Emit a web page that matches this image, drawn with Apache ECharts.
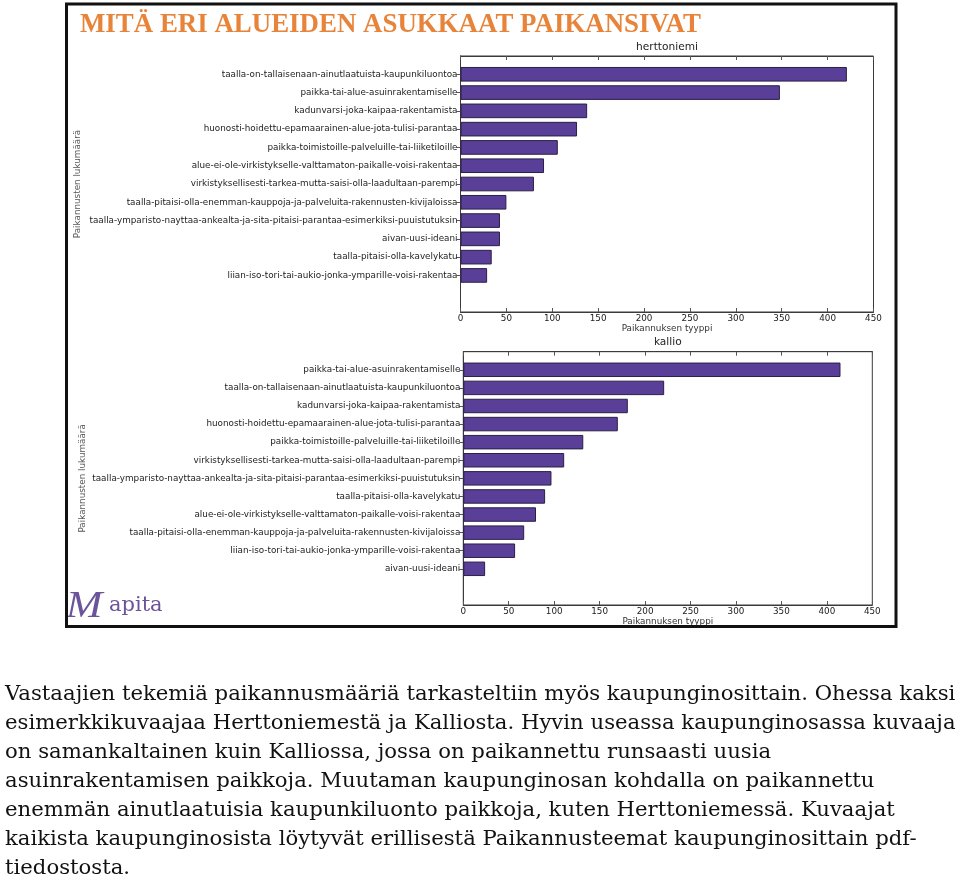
<!DOCTYPE html>
<html>
<head>
<meta charset="utf-8">
<script src="https://cdn.jsdelivr.net/npm/echarts@6/dist/echarts.min.js"></script>
<style>
html,body{margin:0;padding:0;background:#fff;}
#chart{width:960px;height:885px;}
</style>
</head>
<body>
<div id="chart"></div>
<script>
// ---- data ----
const hertCategories = [
  'taalla-on-tallaisenaan-ainutlaatuista-kaupunkiluontoa',
  'paikka-tai-alue-asuinrakentamiselle',
  'kadunvarsi-joka-kaipaa-rakentamista',
  'huonosti-hoidettu-epamaarainen-alue-jota-tulisi-parantaa',
  'paikka-toimistoille-palveluille-tai-liiketiloille',
  'alue-ei-ole-virkistykselle-valttamaton-paikalle-voisi-rakentaa',
  'virkistyksellisesti-tarkea-mutta-saisi-olla-laadultaan-parempi',
  'taalla-pitaisi-olla-enemman-kauppoja-ja-palveluita-rakennusten-kivijaloissa',
  'taalla-ymparisto-nayttaa-ankealta-ja-sita-pitaisi-parantaa-esimerkiksi-puuistutuksin',
  'aivan-uusi-ideani',
  'taalla-pitaisi-olla-kavelykatu',
  'liian-iso-tori-tai-aukio-jonka-ymparille-voisi-rakentaa'
];
const hertValues = [421, 348, 138, 127, 106, 91, 80, 50, 43, 43, 34, 29];

const kallioCategories = [
  'paikka-tai-alue-asuinrakentamiselle',
  'taalla-on-tallaisenaan-ainutlaatuista-kaupunkiluontoa',
  'kadunvarsi-joka-kaipaa-rakentamista',
  'huonosti-hoidettu-epamaarainen-alue-jota-tulisi-parantaa',
  'paikka-toimistoille-palveluille-tai-liiketiloille',
  'virkistyksellisesti-tarkea-mutta-saisi-olla-laadultaan-parempi',
  'taalla-ymparisto-nayttaa-ankealta-ja-sita-pitaisi-parantaa-esimerkiksi-puuistutuksin',
  'taalla-pitaisi-olla-kavelykatu',
  'alue-ei-ole-virkistykselle-valttamaton-paikalle-voisi-rakentaa',
  'taalla-pitaisi-olla-enemman-kauppoja-ja-palveluita-rakennusten-kivijaloissa',
  'liian-iso-tori-tai-aukio-jonka-ymparille-voisi-rakentaa',
  'aivan-uusi-ideani'
];
const kallioValues = [415, 221, 181, 170, 132, 111, 97, 90, 80, 67, 57, 24];

const xTicks = {min: 0, max: 450, interval: 50};
const chartTitles = ['herttoniemi', 'kallio'];
const xAxisName = 'Paikannuksen tyyppi';
const yAxisName = 'Paikannusten lukumäärä';
const mainTitle = 'MITÄ ERI ALUEIDEN ASUKKAAT PAIKANSIVAT';
const paragraphLines = [
  'Vastaajien tekemiä paikannusmääriä tarkasteltiin myös kaupunginosittain. Ohessa kaksi',
  'esimerkkikuvaajaa Herttoniemestä ja Kalliosta. Hyvin useassa kaupunginosassa kuvaaja',
  'on samankaltainen kuin Kalliossa, jossa on paikannettu runsaasti uusia',
  'asuinrakentamisen paikkoja. Muutaman kaupunginosan kohdalla on paikannettu',
  'enemmän ainutlaatuisia kaupunkiluonto paikkoja, kuten Herttoniemessä. Kuvaajat',
  'kaikista kaupunginosista löytyvät erillisestä Paikannusteemat kaupunginosittain pdf-',
  'tiedostosta.'
];

// ---- helpers ----
// pad axis with blank slots (one above, two below) like the original plot limits
function padCats(c){ return [' '].concat(c, ['  ', '   ']); }
function padVals(v){ return ['-'].concat(v, ['-', '-']); }

const FONT = 'DejaVu Sans';
const LBL = 8.8;
const grids = [
  {left: 460.5, top: 56, width: 413, height: 256},
  {left: 463.3, top: 351.7, width: 409, height: 253.3}
];
const nameGaps = [378, 376];

const option = {
  animation: false,
  backgroundColor: '#fff',
  grid: grids.map(g => Object.assign({show: true, borderColor: '#3a3a3a', borderWidth: 1, backgroundColor: 'transparent', containLabel: false}, g)),
  xAxis: [],
  yAxis: [],
  series: [],
  graphic: {elements: []}
};

[[hertCategories, hertValues], [kallioCategories, kallioValues]].forEach((pair, gi) => {
  const cats = padCats(pair[0]);
  option.xAxis.push({
    type: 'value', gridIndex: gi, position: 'bottom',
    min: xTicks.min, max: xTicks.max, interval: xTicks.interval,
    name: xAxisName, nameLocation: 'middle', nameGap: 11,
    nameTextStyle: {fontFamily: FONT, fontSize: LBL, color: '#333'},
    axisLine: {show: true, lineStyle: {color: '#3a3a3a', width: 1}},
    axisTick: {show: true, inside: true, length: 4, lineStyle: {color: '#555'}},
    axisLabel: {fontFamily: FONT, fontSize: LBL, color: '#222', margin: 2},
    splitLine: {show: false}
  });
  option.xAxis.push({
    type: 'value', gridIndex: gi, position: 'top',
    min: xTicks.min, max: xTicks.max, interval: xTicks.interval,
    axisLine: {show: true, lineStyle: {color: '#3a3a3a', width: 1}},
    axisTick: {show: true, inside: true, length: 4, lineStyle: {color: '#555'}},
    axisLabel: {show: false},
    splitLine: {show: false}
  });
  const tickInterval = (i, v) => v.trim() !== '';
  option.yAxis.push({
    type: 'category', gridIndex: gi, position: 'left', inverse: true,
    boundaryGap: false, data: cats,
    name: yAxisName, nameLocation: 'middle', nameGap: nameGaps[gi],
    nameTextStyle: {fontFamily: FONT, fontSize: LBL, color: '#555'},
    axisLine: {show: true, lineStyle: {color: '#3a3a3a', width: 1}},
    axisTick: {show: true, inside: true, length: 4, interval: tickInterval, lineStyle: {color: '#555'}},
    axisLabel: {fontFamily: FONT, fontSize: LBL, color: '#222', margin: 3, interval: 0},
    splitLine: {show: false}
  });
  option.yAxis.push({
    type: 'category', gridIndex: gi, position: 'right', inverse: true,
    boundaryGap: false, data: cats,
    axisLine: {show: true, lineStyle: {color: '#3a3a3a', width: 1}},
    axisTick: {show: true, inside: true, length: 4, interval: tickInterval, lineStyle: {color: '#555'}},
    axisLabel: {show: false},
    splitLine: {show: false}
  });
  option.series.push({
    type: 'bar', xAxisIndex: gi * 2, yAxisIndex: gi * 2,
    data: padVals(pair[1]),
    barWidth: '80%',
    itemStyle: {color: '#5a3f98', borderColor: '#2a1f45', borderWidth: 1},
    emphasis: {disabled: true}
  });
  option.graphic.elements.push({
    type: 'text', x: grids[gi].left + grids[gi].width / 2, y: grids[gi].top - 9,
    style: {text: chartTitles[gi], fontFamily: FONT, fontSize: 10.6, fill: '#222',
            align: 'center', verticalAlign: 'middle', textAlign: 'center', textVerticalAlign: 'middle'}
  });
});

// outer frame
option.graphic.elements.push({
  type: 'rect', shape: {x: 66.5, y: 4, width: 829.5, height: 622.5},
  style: {fill: 'none', stroke: '#111', lineWidth: 3}, z: 10
});
// main title
option.graphic.elements.push({
  type: 'text', x: 80, y: 25, scaleX: 0.96,
  style: {text: mainTitle, fontFamily: 'Liberation Serif', fontWeight: 'bold', fontSize: 28, fill: '#e8843a',
          align: 'left', verticalAlign: 'middle', textAlign: 'left', textVerticalAlign: 'middle'}
});
// logo
option.graphic.elements.push({
  type: 'text', x: 66, y: 607, scaleX: 1.15,
  style: {text: 'M', fontFamily: 'Liberation Serif', fontStyle: 'italic', fontSize: 38, fill: '#6b5499',
          align: 'left', verticalAlign: 'middle', textAlign: 'left', textVerticalAlign: 'middle'}
});
option.graphic.elements.push({
  type: 'text', x: 109, y: 606,
  style: {text: 'apita', fontFamily: 'DejaVu Serif', fontSize: 21, fill: '#6b5499',
          align: 'left', verticalAlign: 'middle', textAlign: 'left', textVerticalAlign: 'middle'}
});
// paragraph
paragraphLines.forEach((t, i) => {
  option.graphic.elements.push({
    type: 'text', x: 5, y: 694 + i * 29,
    style: {text: t, fontFamily: 'DejaVu Serif', fontSize: 21.2, fill: '#111',
            align: 'left', verticalAlign: 'middle', textAlign: 'left', textVerticalAlign: 'middle'}
  });
});

const chart = echarts.init(document.getElementById('chart'), null, {renderer: 'canvas'});
chart.setOption(option);
</script>
</body>
</html>
